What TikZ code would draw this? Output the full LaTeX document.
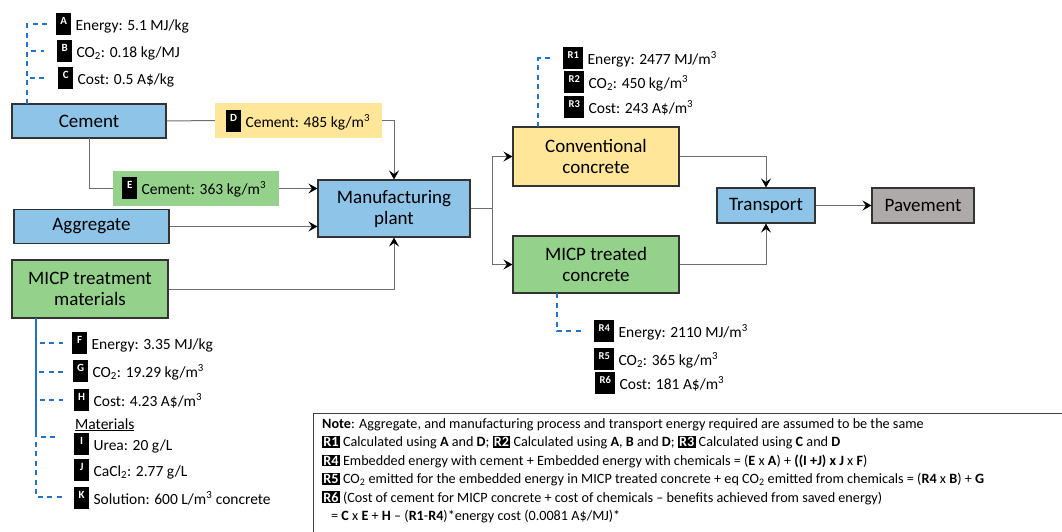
\documentclass[tikz,border=0pt]{standalone}
\usepackage{fontspec}
\setmainfont{Carlito}
\usetikzlibrary{arrows.meta,calc}

\definecolor{boxblue}{RGB}{142,196,232}
\definecolor{boxyellow}{RGB}{255,230,153}
\definecolor{boxgreen}{RGB}{148,210,139}
\definecolor{boxgrey}{RGB}{174,170,170}
\definecolor{dashblue}{RGB}{35,114,200}
\definecolor{linegrey}{RGB}{110,110,110}

% inline black tag used inside the note
\newcommand\notetag[1]{{\setlength{\fboxsep}{1.2pt}\colorbox{black}{\textcolor{white}{\bfseries #1}}}}

\tikzset{
  flowbox/.style={draw=black!80, line width=1.1pt, align=center, inner sep=0pt,
    font=\fontsize{19}{21}\selectfont},
  valbox/.style={inner sep=0pt, font=\fontsize{15.5}{18}\selectfont},
  chip/.style={fill=black, text=white, inner sep=0pt, minimum width=15pt,
    text height=11pt, text depth=11pt, font=\bfseries\fontsize{11}{12}\selectfont},
  rchip/.style={chip, minimum width=20pt, font=\bfseries\fontsize{10.5}{12}\selectfont},
  anno/.style={inner sep=0pt, font=\fontsize{15.5}{18}\selectfont},
  notetext/.style={inner sep=0pt, font=\fontsize{14.2}{17}\selectfont},
  flow/.style={draw=linegrey, line width=1pt},
  flowarrow/.style={flow, -{Stealth[black, length=9pt, width=10pt, inset=3.5pt]}},
  tagline/.style={draw=dashblue, line width=1.8pt, dash pattern=on 5pt off 4.5pt},
}

% tag chip plus its value text
\newcommand\tagrow[5]{%
  \node[#1, anchor=north west] (#2) at (#3) {#4};
  \node[anno, anchor=base west] (#2t) at ([xshift=4pt, yshift=-6pt]#2.base east) {#5};
}

\begin{document}
\begin{tikzpicture}[x=1pt, y=-1pt]
\useasboundingbox (0,0) rectangle (1062,531);
\clip (0,0) rectangle (1062,531);

% ---- process boxes
\node[flowbox, fill=boxblue, minimum width=154pt, minimum height=34pt] (cement) at (89,121) {Cement};
\node[flowbox, fill=boxblue, minimum width=155pt, minimum height=34pt] (aggr) at (91.5,226.5) {Aggregate};
\node[flowbox, fill=boxgreen, minimum width=156pt, minimum height=58pt] (micpmat) at (90,289) {MICP treatment\\materials};
\node[flowbox, fill=boxblue, minimum width=152pt, minimum height=57pt] (plant) at (394,208.5) {Manufacturing\\plant};
\node[flowbox, fill=boxyellow, minimum width=166pt, minimum height=59pt] (conv) at (596,156.5) {Conventional\\concrete};
\node[flowbox, fill=boxgreen, minimum width=166pt, minimum height=57pt] (treated) at (596,264.5) {MICP treated\\concrete};
\node[flowbox, fill=boxblue, minimum width=98pt, minimum height=35pt] (transport) at (766,205.5) {Transport};
\node[flowbox, fill=boxgrey, minimum width=102pt, minimum height=35pt] (pavement) at (923,205.5) {Pavement};

% ---- cement quantity labels
\node[valbox, fill=boxyellow, minimum width=167pt, minimum height=35pt] (dlab) at (298.5,120.5) {};
\node[valbox, fill=boxgreen, minimum width=166pt, minimum height=35pt] (elab) at (196,188.5) {};
\tagrow{chip}{D}{226,110}{D}{Cement: 485 kg/m\textsuperscript{3}}
\tagrow{chip}{E}{122,177}{E}{Cement: 363 kg/m\textsuperscript{3}}

% ---- flow connectors
\coordinate (split) at (492,208.5);
\draw[flow] (cement.east) -- (dlab.west);
\draw[flowarrow] (dlab.east) -| (plant.north);
\draw[flow] (89,138) |- (elab.west);
\draw[flowarrow] (elab.east) -- (plant.west |- elab.east);
\draw[flowarrow] (aggr.east) -- (plant.west |- aggr.east);
\draw[flowarrow] (micpmat.east) -| (plant.south);
\draw[flow] (plant.east) -- (split);
\draw[flowarrow] (split) |- (conv.west);
\draw[flowarrow] (split) |- (treated.west);
\draw[flowarrow] (conv.east) -| (transport.north);
\draw[flowarrow] (treated.east) -| (transport.south);
\draw[flowarrow] (transport.east) -- (pavement.west);

% ---- cement properties
\tagrow{chip}{A}{56,13}{A}{Energy: 5.1 MJ/kg}
\tagrow{chip}{B}{57,40}{B}{CO\textsubscript{2}: 0.18 kg/MJ}
\tagrow{chip}{C}{58,67}{C}{Cost: 0.5 A\$/kg}
\coordinate (cfoot) at (27,104);
\draw[tagline] (cfoot) |- ([xshift=-9pt]A.west);
\draw[tagline] (cfoot) |- ([xshift=-13pt]B.west);
\draw[tagline] (cfoot) |- ([xshift=-14pt]C.west);

% ---- conventional concrete results
\tagrow{rchip}{R1}{563,47}{R1}{Energy: 2477 MJ/m\textsuperscript{3}}
\tagrow{rchip}{R2}{564,71}{R2}{CO\textsubscript{2}: 450 kg/m\textsuperscript{3}}
\tagrow{rchip}{R3}{564,96}{R3}{Cost: 243 A\$/m\textsuperscript{3}}
\draw[tagline] (538,127) |- ([xshift=-12pt]R1.west);

% ---- MICP treated concrete results
\tagrow{rchip}{R4}{594,320}{R4}{Energy: 2110 MJ/m\textsuperscript{3}}
\tagrow{rchip}{R5}{594,348}{R5}{CO\textsubscript{2}: 365 kg/m\textsuperscript{3}}
\tagrow{rchip}{R6}{595,372}{R6}{Cost: 181 A\$/m\textsuperscript{3}}
\draw[tagline] (557,293) |- ([xshift=-10pt]R4.west);

% ---- MICP treatment materials properties
\tagrow{chip}{F}{72,332}{F}{Energy: 3.35 MJ/kg}
\tagrow{chip}{G}{73,360}{G}{CO\textsubscript{2}: 19.29 kg/m\textsuperscript{3}}
\tagrow{chip}{H}{74,389}{H}{Cost: 4.23 A\$/m\textsuperscript{3}}
\node[anno, anchor=base west] (mathead) at (75,429) {\underline{Materials}};
\tagrow{chip}{I}{74,433}{I}{Urea: 20 g/L}
\tagrow{chip}{J}{74,459}{J}{CaCl\textsubscript{2}: 2.77 g/L}
\tagrow{chip}{K}{74,487}{K}{Solution: 600 L/m\textsuperscript{3} concrete}
\coordinate (mfoot) at (36,318);
\draw[dashblue, line width=1.8pt] (mfoot) -- (36,437);
\draw[tagline] (mfoot) |- ([xshift=-9pt]F.west |- 0,343);
\draw[tagline] (mfoot) |- ([xshift=-10pt]G.west |- 0,372);
\draw[tagline] (mfoot) |- ([xshift=-11pt]H.west |- 0,400);
\draw[tagline] (mfoot) |- ([xshift=-16pt]I.west |- 0,437);
\draw[tagline] (mfoot) |- ([xshift=-9pt]K.west |- 0,497);

% ---- note
\node[draw=black!75, line width=1pt, minimum width=760pt, minimum height=130pt, anchor=north west] (notebox) at (313,413) {};
\node[notetext, anchor=base west] (n1) at (322,428) {\textbf{Note}: Aggregate, and manufacturing process and transport energy required are assumed to be the same};
\node[notetext, anchor=base west] (n2) at (322,446.5) {\notetag{R1} Calculated using \textbf{A} and \textbf{D}; \notetag{R2} Calculated using \textbf{A}, \textbf{B} and \textbf{D}; \notetag{R3} Calculated using \textbf{C} and \textbf{D}};
\node[notetext, anchor=base west] (n3) at (322,465) {\notetag{R4} Embedded energy with cement + Embedded energy with chemicals = (\textbf{E} x \textbf{A}) + \textbf{((I +J) x J} x \textbf{F})};
\node[notetext, anchor=base west] (n4) at (322,483.5) {\notetag{R5} CO\textsubscript{2} emitted for the embedded energy in MICP treated concrete + eq CO\textsubscript{2} emitted from chemicals = (\textbf{R4} x \textbf{B}) + \textbf{G}};
\node[notetext, anchor=base west] (n5) at (322,502) {\notetag{R6} (Cost of cement for MICP concrete + cost of chemicals -- benefits achieved from saved energy)};
\node[notetext, anchor=base west] (n6) at (331,520.5) {= \textbf{C} x \textbf{E} + \textbf{H} -- (\textbf{R1}-\textbf{R4})*energy cost (0.0081 A\$/MJ)*};
\end{tikzpicture}
\end{document}
